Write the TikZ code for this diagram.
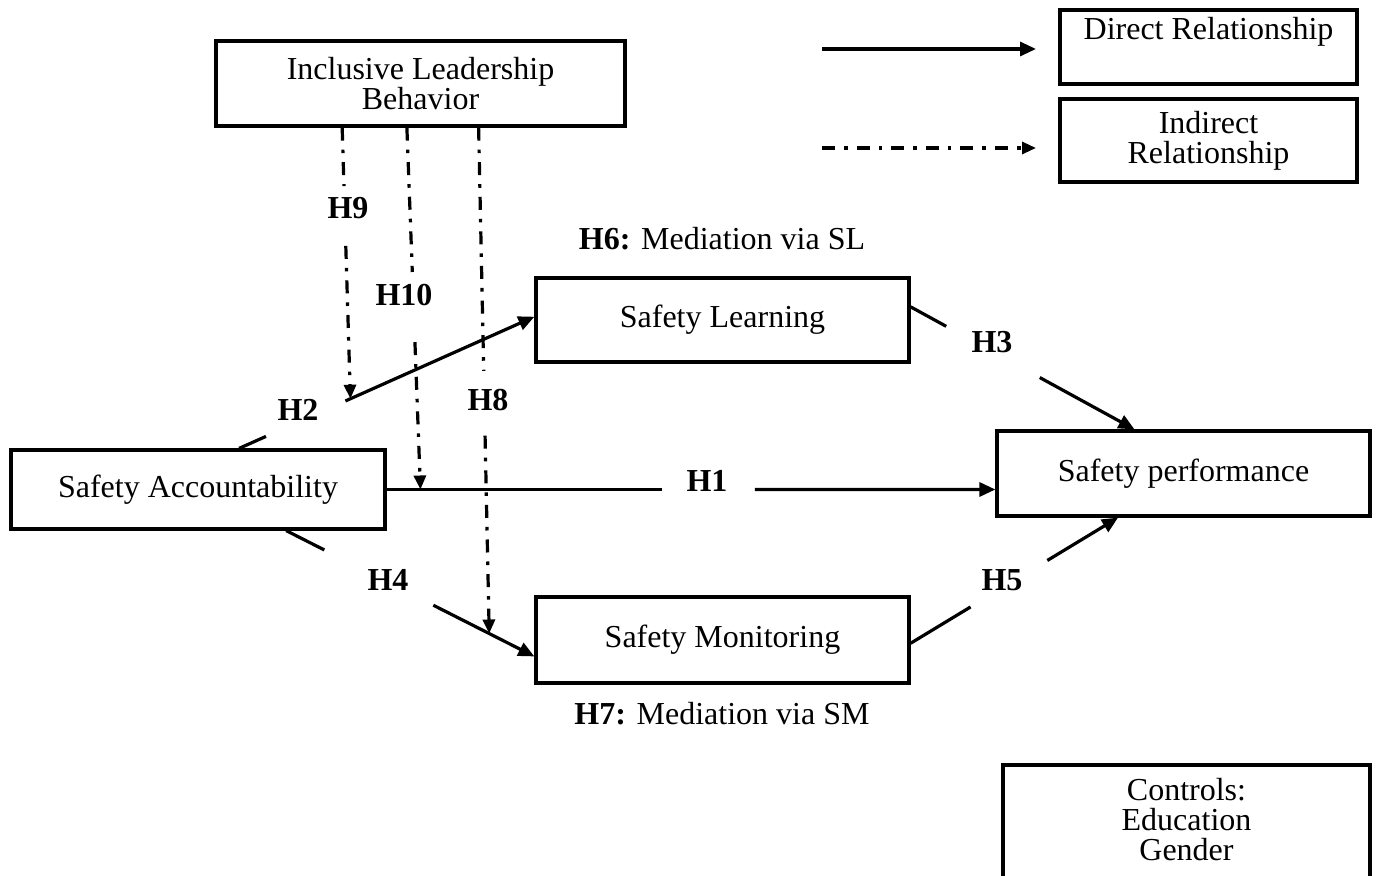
\documentclass[tikz,border=0pt]{standalone}
\usepackage{fontspec}
\setmainfont{Liberation Serif}
\usetikzlibrary{arrows.meta,calc}
\tikzset{
 box/.style={draw, line width=1.6pt, inner sep=0pt, align=center, font=\fontsize{16}{15}\selectfont},
 txt/.style={inner sep=0pt, align=center, font=\fontsize{16}{15}\selectfont},
 hlab/.style={inner sep=0pt, font=\fontsize{16}{15}\selectfont\bfseries},
 plainseg/.style={line width=1.6pt},
 direct/.style={plainseg, -{Triangle[length=8pt,width=7pt]}},
 dashdot/.style={line width=1.6pt, dash pattern=on 6.5pt off 4.5pt on 1.8pt off 4.5pt},
 indirect/.style={dashdot, -{Triangle[length=7pt,width=6pt]}},
}
\begin{document}
\begin{tikzpicture}[x=0.5pt,y=-0.5pt]
\useasboundingbox (0,0) rectangle (1378,876);
% boxes
\node[box, minimum width=204.5pt, minimum height=42.5pt] (ilb) at (420.5,83.5) {Inclusive Leadership\\Behavior};
\node[box, minimum width=148.5pt, minimum height=37pt] (dr) at (1208.5,47) {};
\node[txt] (drt) at (1208.5,32) {Direct Relationship};
\node[box, minimum width=148.5pt, minimum height=41.5pt] (ir) at (1208.5,140.5) {Indirect\\Relationship};
\node[box, minimum width=186.5pt, minimum height=42pt] (sl) at (722.5,320) {Safety Learning};
\node[box, minimum width=187pt, minimum height=39.5pt] (sa) at (198,489.5) {Safety Accountability};
\node[box, minimum width=186.5pt, minimum height=42.5pt] (sp) at (1183.5,473.5) {Safety performance};
\node[box, minimum width=186.5pt, minimum height=43pt] (sm) at (722.5,640) {Safety Monitoring};
\node[box, minimum width=183.5pt, minimum height=62.5pt] (ctrl) at (1186.5,827.5) {};
\node[txt] (ctrlt) at (1186.5,820) {Controls:\\Education\\Gender};
\node[txt] (h6) at (722,239) {\textbf{H6:} Mediation via SL};
\node[txt] (h7) at (722,714) {\textbf{H7:} Mediation via SM};
% legend arrows
\coordinate (l1a) at (822,49); \coordinate (l1b) at (1036,49);
\draw[direct] (l1a) -- (l1b);
\coordinate (l2a) at (822,148); \coordinate (l2b) at (1036,148);
\draw[indirect] (l2a) -- (l2b);
% H1
\coordinate (h1a) at (sa.east);
\coordinate (h1b) at (sa.east -| sp.west);
\draw[plainseg] (h1a) -- ($(h1a)!0.453!(h1b)$);
\draw[direct] ($(h1a)!0.605!(h1b)$) -- (h1b);
\node[hlab] (lh1) at (707,481) {H1};
% H2
\draw[plainseg] (sa.45) -- ($(sa.45)!0.091!(sl.179)$);
\draw[direct] ($(sa.45)!0.36!(sl.179)$) -- (sl.179);
\node[hlab] (lh2) at (298,410) {H2};
% H3
\draw[plainseg] (sl.4) -- ($(sl.4)!0.159!(sp.138)$);
\draw[direct] ($(sl.4)!0.577!(sp.138)$) -- (sp.138);
\node[hlab] (lh3) at (992,342) {H3};
% H4
\draw[plainseg] (sa.-25) -- ($(sa.-25)!0.154!(sm.-175)$);
\draw[direct] ($(sa.-25)!0.593!(sm.-175)$) -- (sm.-175);
\node[hlab] (lh4) at (388,580) {H4};
% H5
\draw[plainseg] (sm.-1) -- ($(sm.-1)!0.289!(sp.-146)$);
\draw[direct] ($(sm.-1)!0.659!(sp.-146)$) -- (sp.-146);
\node[hlab] (lh5) at (1002,580) {H5};
% H9
\coordinate (h9s) at ($(ilb.south west)!0.31!(ilb.south east)$);
\coordinate (h9e) at ($(sa.45)!0.377!(sl.179)$);
\draw[dashdot] (h9s) -- ($(h9s)!0.216!(h9e)$);
\draw[indirect] ($(h9s)!0.436!(h9e)$) -- (h9e);
\node[hlab] (lh9) at (348,208) {H9};
% H10
\coordinate (h10s) at ($(ilb.south west)!0.467!(ilb.south east)$);
\coordinate (h10e) at ($(h1a)!0.0556!(h1b)$);
\draw[dashdot] (h10s) -- ($(h10s)!0.399!(h10e)$);
\draw[indirect] ($(h10s)!0.593!(h10e)$) -- (h10e);
\node[hlab] (lh10) at (404,295) {H10};
% H8
\coordinate (h8s) at ($(ilb.south west)!0.641!(ilb.south east)$);
\coordinate (h8e) at ($(sa.-25)!0.818!(sm.-175)$);
\draw[dashdot] (h8s) -- ($(h8s)!0.481!(h8e)$);
\draw[indirect] ($(h8s)!0.609!(h8e)$) -- (h8e);
\node[hlab] (lh8) at (488,400) {H8};
\end{tikzpicture}
\end{document}
